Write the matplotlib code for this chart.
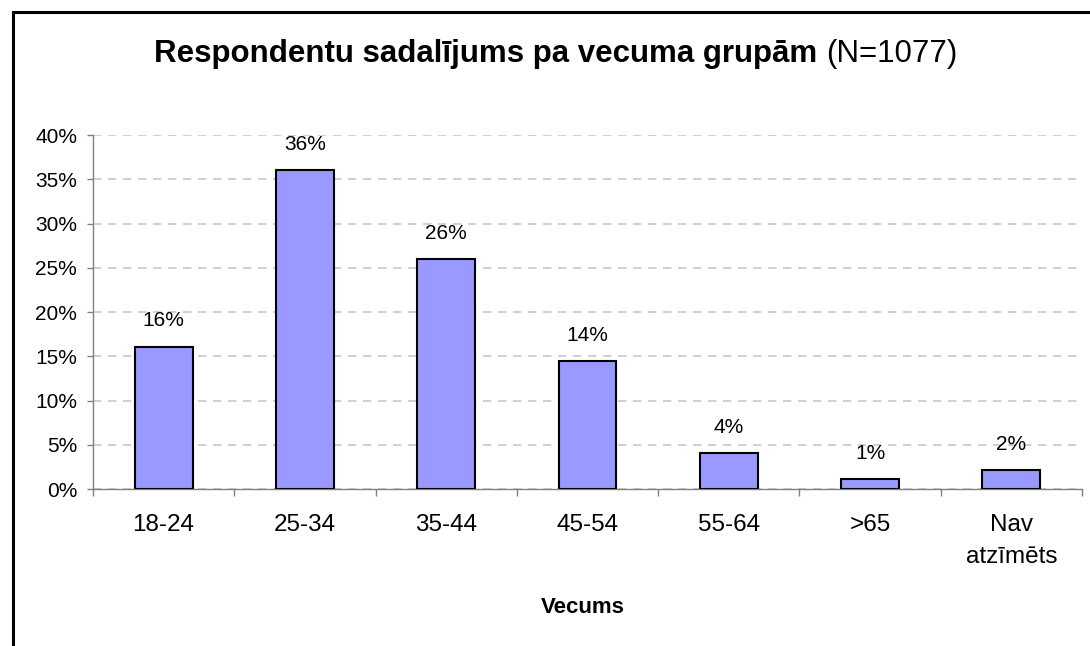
"""
Respondentu sadalījums pa vecuma grupām - bar chart.
"""

import matplotlib
matplotlib.use('Agg')
import matplotlib.pyplot as plt
from matplotlib.patches import Rectangle
from matplotlib.ticker import FuncFormatter, MultipleLocator

categories = ['18-24', '25-34', '35-44', '45-54', '55-64', '>65', 'Nav\natzīmēts']
shares = [16.1, 36.0, 26.0, 14.5, 4.1, 1.1, 2.1]
labels = ['16%', '36%', '26%', '14%', '4%', '1%', '2%']

plt.rcParams['font.family'] = ['Liberation Sans', 'DejaVu Sans']

fig = plt.figure(figsize=(10.9, 6.46), dpi=100)
ax = fig.add_axes([0.0853, 0.2430, 0.9074, 0.5480])

x = range(len(categories))
ax.bar(x, shares, width=0.41, color='#9999ff', edgecolor='black', linewidth=1.5, zorder=3)
for xi, v, lab in zip(x, shares, labels):
    ax.annotate(lab, (xi, v), xytext=(0, 14.5), textcoords='offset points',
                ha='center', va='baseline', fontsize=15)

ax.set_xlim(-0.5, len(categories) - 0.5)
ax.set_ylim(0, 40)
ax.yaxis.set_major_locator(MultipleLocator(5))
ax.yaxis.set_major_formatter(FuncFormatter(lambda v, p: f'{v:.0f}%'))
ax.grid(axis='y', color='#c8c8c8', linestyle=(0, (5, 4)), linewidth=1.2, zorder=0)
ax.set_axisbelow(True)

# category ticks at the boundaries, labels in the middle
ax.set_xticks([i - 0.5 for i in range(len(categories) + 1)])
ax.set_xticklabels([])
ax.set_xticks(list(x), minor=True)
ax.set_xticklabels(categories, minor=True, fontsize=17.5, va='top', linespacing=1.6)
ax.tick_params(axis='x', which='major', length=5, color='#808080', width=1)
ax.tick_params(axis='x', which='minor', length=0, pad=18)
ax.tick_params(axis='y', length=4.5, color='#808080', width=1, labelsize=15, pad=7)

for side in ['top', 'right']:
    ax.spines[side].set_visible(False)
for side in ['left', 'bottom']:
    ax.spines[side].set_color('#808080')
    ax.spines[side].set_linewidth(1)

fig.text(583 / 1090, 1 - 613 / 646, 'Vecums', fontsize=16, fontweight='bold',
         ha='center', va='baseline')

# outer frame (runs off the right and bottom edges)
fig.patches.append(Rectangle((13 / 1090, -0.1), 1.2, 0.1 + 1 - 12 / 646,
                             transform=fig.transFigure, fill=False,
                             edgecolor='black', linewidth=2.2))

# title: bold part + normal part, centred together
renderer = fig.canvas.get_renderer()
ty = 1 - 62 / 646
t1 = fig.text(0, ty, 'Respondentu sadalījums pa vecuma grupām ', fontsize=22.5,
              fontweight='bold', va='baseline', ha='left')
t2 = fig.text(0, ty, '(N=1077)', fontsize=22.5, va='baseline', ha='left')
w1 = t1.get_window_extent(renderer).width / fig.bbox.width
w2 = t2.get_window_extent(renderer).width / fig.bbox.width
x0 = 556 / 1090 - (w1 + w2) / 2
t1.set_x(x0)
t2.set_x(x0 + w1)

fig.savefig('out.png', dpi=100)
